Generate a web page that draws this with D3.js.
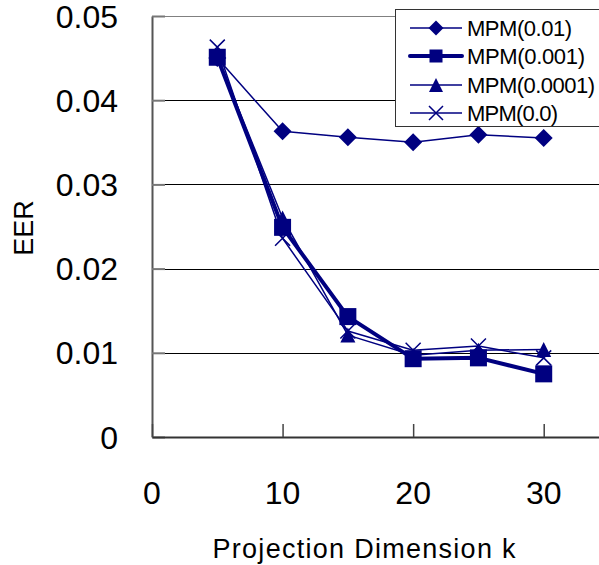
<!DOCTYPE html>
<html><head><meta charset="utf-8">
<script src="https://cdn.jsdelivr.net/npm/d3@7"></script>
<style>html,body{margin:0;padding:0;background:#fff;overflow:hidden}</style>
</head><body>
<svg id="c" width="599" height="565"></svg>
<script>
const dims = [5, 10, 15, 20, 25, 30];
const seriesNames = ["MPM(0.01)", "MPM(0.001)", "MPM(0.0001)", "MPM(0.0)"];
const mpm001   = [0.0450, 0.0363, 0.0356, 0.0350, 0.0359, 0.0355];
const mpm0001  = [0.0451, 0.0249, 0.0143, 0.0093, 0.0094, 0.0075];
const mpm00001 = [0.0452, 0.0260, 0.0121, 0.0097, 0.0103, 0.0104];
const mpm0     = [0.0463, 0.0236, 0.0126, 0.0103, 0.0108, 0.0094];
const yTicks = [0, 0.01, 0.02, 0.03, 0.04, 0.05];
const yTickLabels = ["0", "0.01", "0.02", "0.03", "0.04", "0.05"];
const xTicks = [0, 10, 20, 30];
const xTickLabels = ["0", "10", "20", "30"];

const color = "#000080";
const font = "'Liberation Sans', Arial, sans-serif";
const svg = d3.select("#c");
const x = d3.scaleLinear().domain([0, 35]).range([152, 609]);
const y = d3.scaleLinear().domain([0, 0.05]).range([437, 16]);

// gridlines
svg.append("g").selectAll("line").data(yTicks.filter(d => d > 0 && d < 0.05)).join("line")
  .attr("x1", x(0)).attr("x2", 599).attr("y1", d => Math.round(y(d)) + 0.5).attr("y2", d => Math.round(y(d)) + 0.5)
  .attr("stroke", "#000").attr("stroke-width", 1);
// top border
svg.append("line").attr("x1", x(0)).attr("x2", 599).attr("y1", y(0.05) + 0.5).attr("y2", y(0.05) + 0.5)
  .attr("stroke", "#808080").attr("stroke-width", 1);

// y axis
const yAxis = d3.axisLeft(y).tickValues(yTicks).tickSize(-13).tickFormat("").tickSizeOuter(0);
const ga = svg.append("g").attr("transform", `translate(${x(0)},0)`).call(yAxis);
ga.select(".domain").attr("stroke", "#555").attr("stroke-width", 2);
ga.selectAll(".tick line").attr("stroke", "#777").attr("stroke-width", 2);
// y tick labels
svg.append("g").selectAll("text").data(yTicks).join("text")
  .attr("x", 118).attr("y", d => y(d)).attr("dy", "0.36em")
  .attr("text-anchor", "end").attr("font-family", font).attr("font-size", 32)
  .attr("fill", "#000").text((d, i) => yTickLabels[i]);

// x axis
const xAxis = d3.axisBottom(x).tickValues(xTicks).tickSize(-13).tickFormat("").tickSizeOuter(0);
const gx = svg.append("g").attr("transform", `translate(0,${y(0)})`).call(xAxis);
gx.select(".domain").attr("stroke", "#333").attr("stroke-width", 2);
gx.selectAll(".tick line").attr("stroke", "#444").attr("stroke-width", 1.5);
svg.append("g").selectAll("text").data(xTicks).join("text")
  .attr("x", d => x(d)).attr("y", 504)
  .attr("text-anchor", "middle").attr("font-family", font).attr("font-size", 32)
  .attr("fill", "#000").text((d, i) => xTickLabels[i]);

// axis titles
svg.append("text").attr("x", 364).attr("y", 558).attr("text-anchor", "middle")
  .attr("font-family", font).attr("font-size", 27).attr("textLength", 303).attr("lengthAdjust", "spacing")
  .text("Projection Dimension k");
svg.append("text").attr("transform", "translate(33,228) rotate(-90)").attr("text-anchor", "middle")
  .attr("font-family", font).attr("font-size", 27).text("EER");

const series = [
  {name: seriesNames[0], vals: mpm001, w: 1.5, m: "diamond"},
  {name: seriesNames[2], vals: mpm00001, w: 1.5, m: "triangle"},
  {name: seriesNames[1], vals: mpm0001, w: 4, m: "square"},
  {name: seriesNames[3], vals: mpm0, w: 1.5, m: "cross"},
];
const line = d3.line().x(d => x(d[0])).y(d => y(d[1]));

function marker(g, type, cx, cy, s) {
  if (type === "diamond") {
    g.append("path").attr("d", `M${cx},${cy - s/2}L${cx + s/2},${cy}L${cx},${cy + s/2}L${cx - s/2},${cy}Z`).attr("fill", color);
  } else if (type === "square") {
    g.append("rect").attr("x", cx - s/2).attr("y", cy - s/2).attr("width", s).attr("height", s).attr("fill", color);
  } else if (type === "triangle") {
    g.append("path").attr("d", `M${cx},${cy - s/2}L${cx + s/2},${cy + s/2}L${cx - s/2},${cy + s/2}Z`).attr("fill", color);
  } else {
    const h = s / 2;
    g.append("path").attr("d", `M${cx - h},${cy - h}L${cx + h},${cy + h}M${cx + h},${cy - h}L${cx - h},${cy + h}`)
      .attr("stroke", color).attr("stroke-width", 1.5).attr("fill", "none");
  }
}
const sizes = {diamond: 18, square: 17, triangle: 15, cross: 15};

series.forEach(s => {
  const pts = dims.map((d, i) => [d, s.vals[i]]);
  svg.append("path").attr("d", line(pts)).attr("fill", "none").attr("stroke", color)
    .attr("stroke-width", s.w).attr("stroke-linejoin", "round");
  const g = svg.append("g");
  pts.forEach(p => marker(g, s.m, x(p[0]), y(p[1]), sizes[s.m]));
});

// legend
const lg = svg.append("g");
lg.append("rect").attr("x", 395.5).attr("y", 9.5).attr("width", 220).attr("height", 117)
  .attr("fill", "#fff").attr("stroke", "#333").attr("stroke-width", 1);
const legendItems = [
  {name: seriesNames[0], w: 1.5, m: "diamond", s: 15, len: 105},
  {name: seriesNames[1], w: 4, m: "square", s: 13, len: 118},
  {name: seriesNames[2], w: 1.5, m: "triangle", s: 14, len: 128},
  {name: seriesNames[3], w: 1.5, m: "cross", s: 14, len: 91},
];
const rowY = [28, 56, 85, 113];
legendItems.forEach((it, i) => {
  const cy = rowY[i];
  lg.append("line").attr("x1", 410).attr("x2", 462).attr("y1", cy).attr("y2", cy)
    .attr("stroke", color).attr("stroke-width", it.w).attr("stroke-linecap", it.w > 2 ? "round" : "butt");
  marker(lg, it.m, 436, cy, it.s);
  lg.append("text").attr("x", 467).attr("y", cy).attr("dy", "0.36em")
    .attr("font-family", font).attr("font-size", 22).attr("fill", "#000")
    .attr("textLength", it.len).attr("lengthAdjust", "spacing").text(it.name);
});
</script>
</body></html>
